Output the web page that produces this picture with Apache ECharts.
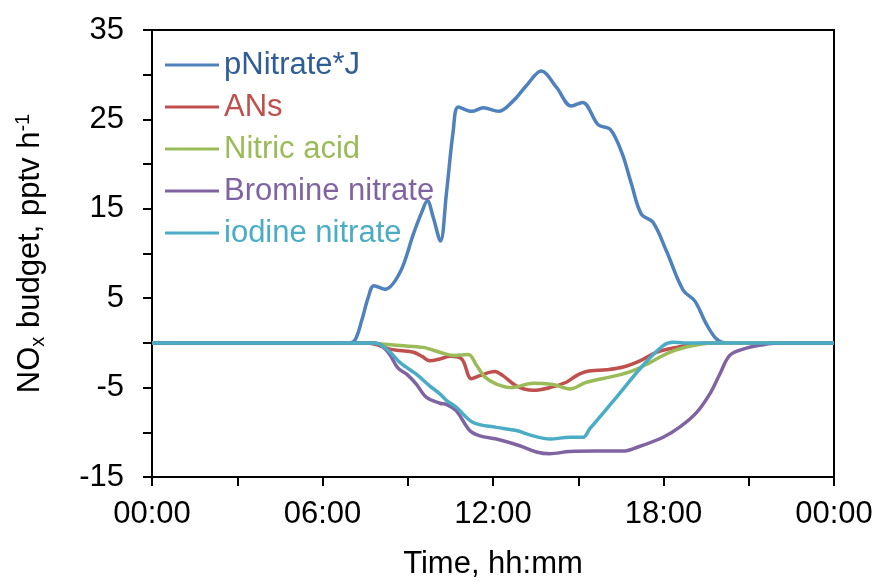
<!DOCTYPE html>
<html>
<head>
<meta charset="utf-8">
<script src="https://cdn.jsdelivr.net/npm/echarts@6/dist/echarts.min.js"></script>
<style>html,body{margin:0;padding:0;background:#fff}#chart{width:877px;height:588px}</style>
</head>
<body>
<div id="chart"></div>
<script>
// ---- data (hours of day, pptv h-1) ----
const seriesNames = ['pNitrate*J', 'ANs', 'Nitric acid', 'Bromine nitrate', 'iodine nitrate'];

const pNitrateT = [0, 6.5, 6.9, 7.14, 7.38, 7.61, 7.81, 8.2, 8.73, 9.2, 9.49, 9.69, 9.9, 10.15, 10.36, 10.6, 10.78, 11.25, 11.66, 12.19, 12.72, 13.18, 13.7, 14.23, 14.76, 15.15, 15.7, 16.12, 16.53, 16.87, 17.22, 17.63, 18.1, 18.69, 19.1, 19.51, 19.86, 20.2, 24];
const pNitrateV = [0, 0, 0, 0.3, 2.5, 5.1, 6.4, 6.0, 7.9, 12.2, 14.6, 15.9, 14.0, 11.4, 16.7, 23.7, 26.4, 25.9, 26.3, 25.9, 27.1, 28.8, 30.4, 28.6, 26.5, 26.9, 24.4, 23.9, 21.3, 17.8, 14.4, 13.5, 10.3, 5.9, 4.7, 2.1, 0.45, 0, 0];

const ansT = [0, 7.6, 8.0, 8.37, 8.73, 9.2, 9.5, 9.77, 10.13, 10.49, 10.9, 11.24, 11.54, 12.06, 12.35, 12.82, 13.41, 14.0, 14.58, 14.94, 15.29, 16.0, 16.58, 17.17, 17.75, 18.45, 19.16, 19.6, 24];
const ansV = [0, 0, -0.3, -0.7, -0.86, -1.05, -1.5, -2.0, -1.8, -1.5, -1.8, -4.0, -3.66, -3.2, -3.66, -4.8, -5.3, -5.0, -4.4, -3.66, -3.2, -3.0, -2.7, -2.0, -1.05, -0.5, -0.1, 0, 0];

const nitricT = [0, 7.5, 8.0, 8.73, 9.55, 9.78, 10.13, 10.6, 11.13, 11.42, 11.71, 12.12, 12.65, 13.41, 14.11, 14.7, 15.29, 16.34, 16.93, 17.52, 18.22, 19.04, 19.74, 24];
const nitricV = [0, 0, -0.1, -0.3, -0.5, -0.7, -1.05, -1.4, -1.3, -2.5, -3.8, -4.6, -5.0, -4.5, -4.66, -5.15, -4.4, -3.66, -3.1, -2.2, -1.05, -0.3, 0, 0];

const bromineT = [0, 7.85, 8.32, 8.65, 9.0, 9.3, 9.66, 10.13, 10.37, 10.71, 11.18, 11.54, 12.12, 12.94, 13.53, 14.0, 14.7, 15.64, 16.58, 17.05, 17.99, 18.58, 19.16, 19.63, 19.98, 20.33, 20.8, 21.5, 22.0, 24];
const bromineV = [0, 0, -1.1, -2.8, -3.6, -4.6, -6.1, -6.75, -6.9, -7.6, -9.8, -10.4, -10.75, -11.5, -12.2, -12.4, -12.15, -12.1, -12.1, -11.7, -10.55, -9.4, -7.8, -5.7, -3.5, -1.4, -0.7, -0.2, 0, 0];

const iodineT = [0, 7.85, 8.32, 8.73, 9.3, 9.77, 10.13, 10.37, 10.71, 11.3, 12.12, 12.82, 13.41, 14.0, 14.7, 15.17, 15.41, 16.34, 17.28, 17.99, 18.34, 18.7, 24];
const iodineV = [0, 0, -0.86, -2.2, -3.5, -4.8, -5.7, -6.45, -7.2, -8.9, -9.45, -9.8, -10.4, -10.75, -10.55, -10.55, -9.6, -6.1, -2.5, -0.3, 0.07, 0, 0];

const xTickLabels = ['00:00', '06:00', '12:00', '18:00', '00:00'];
const yTickLabels = [35, 25, 15, 5, -5, -15];

const lineColors = ['#4F81BD', '#C0504D', '#9BBB59', '#8064A2', '#4BACC6'];
const textColors = ['#2F5D96', '#C0504D', '#9BBB59', '#8064A2', '#4BACC6'];

const pairs = (t, v) => t.map((h, i) => [h, v[i]]);
const allData = [
  pairs(pNitrateT, pNitrateV),
  pairs(ansT, ansV),
  pairs(nitricT, nitricV),
  pairs(bromineT, bromineV),
  pairs(iodineT, iodineV)
];

const FONT = 'Liberation Sans, Arial, sans-serif';
const FS = 31;

const chart = echarts.init(document.getElementById('chart'));
chart.setOption({
  animation: false,
  backgroundColor: '#fff',
  grid: { left: 152, top: 30, right: 43, bottom: 111, show: true, borderColor: '#000', borderWidth: 2, backgroundColor: 'transparent' },
  legend: {
    orient: 'vertical',
    left: 160,
    top: 44,
    itemWidth: 54,
    itemHeight: 3,
    itemGap: 10,
    icon: 'rect',
    data: seriesNames.map((n, i) => ({ name: n, textStyle: { color: textColors[i] } })),
    textStyle: { fontFamily: FONT, fontSize: FS, lineHeight: 32, padding: [0, 0, 0, 0] }
  },
  xAxis: {
    type: 'value', min: 0, max: 24, interval: 3,
    axisLine: { onZero: false, lineStyle: { color: '#000', width: 2 } },
    axisTick: { show: true, length: 9, lineStyle: { color: '#000', width: 2 } },
    splitLine: { show: false },
    axisLabel: {
      margin: 22, color: '#000', fontFamily: FONT, fontSize: FS,
      formatter: v => (v % 6 === 0 ? xTickLabels[v / 6] : '')
    },
    name: 'Time, hh:mm', nameLocation: 'middle', nameGap: 72,
    nameTextStyle: { color: '#000', fontFamily: FONT, fontSize: FS }
  },
  yAxis: {
    type: 'value', min: -15, max: 35, interval: 5,
    axisLine: { show: true, lineStyle: { color: '#000', width: 2 } },
    axisTick: { show: true, length: 9, lineStyle: { color: '#000', width: 2 } },
    splitLine: { show: false },
    axisLabel: {
      margin: 28, color: '#000', fontFamily: FONT, fontSize: FS,
      formatter: v => (yTickLabels.indexOf(v) >= 0 ? String(v) : '')
    },
    name: '{a|NO}{sub|x}{a| budget, pptv h}{sup|-1}',
    nameLocation: 'middle', nameRotate: 90, nameGap: 104,
    nameTextStyle: {
      color: '#000', fontFamily: FONT, fontSize: FS,
      rich: {
        a: { color: '#000', fontFamily: FONT, fontSize: FS },
        sub: { color: '#000', fontFamily: FONT, fontSize: 20, padding: [16, 0, 0, 0] },
        sup: { color: '#000', fontFamily: FONT, fontSize: 20, padding: [0, 0, 14, 0] }
      }
    }
  },
  series: seriesNames.map((n, i) => ({
    name: n, type: 'line', data: allData[i],
    smooth: 0.35, showSymbol: false, symbol: 'none',
    lineStyle: { color: lineColors[i], width: 3.5 },
    itemStyle: { color: lineColors[i] },
    z: 2 + i
  }))
});
</script>
</body>
</html>
